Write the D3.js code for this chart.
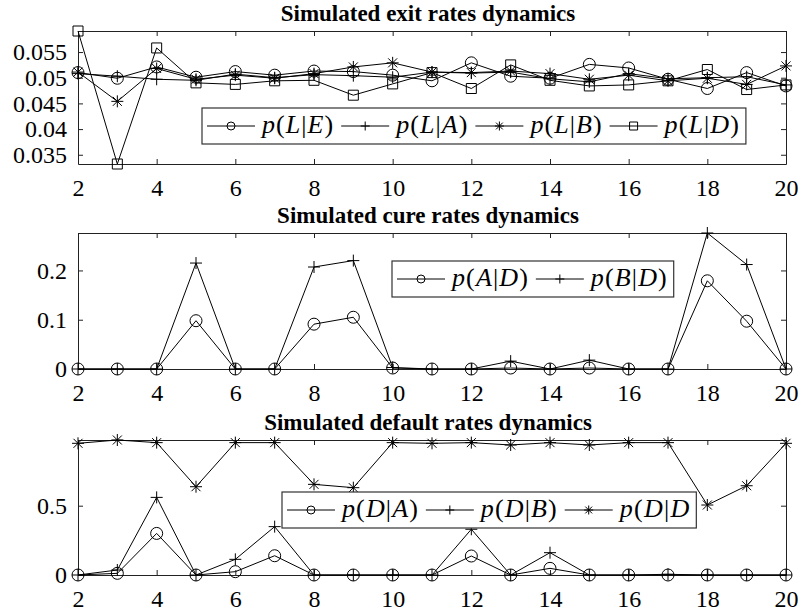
<!DOCTYPE html>
<html>
<head>
<meta charset="utf-8">
<script src="https://cdn.jsdelivr.net/npm/d3@7"></script>
<style>
  body { margin: 0; background: #fff; }
  svg { display: block; }
</style>
</head>
<body>
<svg id="chart" width="801" height="616"></svg>
<script>
// Data
var periods = [2, 3, 4, 5, 6, 7, 8, 9, 10, 11, 12, 13, 14, 15, 16, 17, 18, 19, 20];
var xTicks = [2, 4, 6, 8, 10, 12, 14, 16, 18, 20];

var exitLE = [0.0510, 0.0499, 0.0521, 0.0501, 0.0512, 0.0505, 0.0513, 0.0512, 0.0505, 0.0494, 0.0529, 0.0503, 0.0499, 0.0526, 0.0519, 0.0497, 0.0479, 0.0510, 0.0484];
var exitLA = [0.0508, 0.0503, 0.0497, 0.0495, 0.0507, 0.0500, 0.0506, 0.0504, 0.0501, 0.0511, 0.0509, 0.0511, 0.0498, 0.0492, 0.0508, 0.0498, 0.0500, 0.0502, 0.0486];
var exitLB = [0.0511, 0.0454, 0.0518, 0.0497, 0.0505, 0.0499, 0.0508, 0.0521, 0.0529, 0.0511, 0.0510, 0.0513, 0.0508, 0.0497, 0.0505, 0.0494, 0.0499, 0.0487, 0.0523];
var exitLD = [0.0591, 0.0332, 0.0558, 0.0490, 0.0487, 0.0494, 0.0495, 0.0466, 0.0488, 0.0510, 0.0479, 0.0525, 0.0495, 0.0484, 0.0486, 0.0494, 0.0516, 0.0477, 0.0486];

var cureAD = [0, 0, 0, 0.098, 0, 0, 0.091, 0.105, 0.002, 0, 0, 0.002, 0, 0.002, 0, 0, 0.179, 0.097, 0];
var cureBD = [0, 0, 0, 0.215, 0, 0, 0.207, 0.220, 0.003, 0, 0, 0.016, 0, 0.018, 0, 0, 0.276, 0.212, 0];

var defDA = [0, 0.012, 0.300, 0, 0.024, 0.139, 0, 0, 0, 0, 0.137, 0, 0.048, 0, 0, 0, 0, 0, 0];
var defDB = [0, 0.036, 0.560, 0, 0.113, 0.349, 0, 0, 0, 0, 0.330, 0, 0.161, 0, 0, 0.005, 0, 0, 0];
var defDD = [0.950, 0.974, 0.955, 0.637, 0.955, 0.955, 0.654, 0.630, 0.955, 0.950, 0.955, 0.938, 0.955, 0.938, 0.955, 0.955, 0.505, 0.644, 0.950];

var exitTicks = [0.035, 0.04, 0.045, 0.05, 0.055];
var cureTicks = [0, 0.1, 0.2];
var defTicks = [0, 0.5];

var FONT = "Liberation Serif";
var svg = d3.select("#chart");
var left = 78, right = 786;
var x = d3.scaleLinear().domain([2, 20]).range([left, right]);

//** marker shapes, centred on 0,0 */
function markerPath(type, s) {
    if (type == "plus") return "M" + (-s) + ",0H" + s + "M0," + (-s) + "V" + s;
    if (type == "star") {
        var d = s * 0.75;
        return "M" + (-s) + ",0H" + s + "M0," + (-s) + "V" + s +
            "M" + (-d) + "," + (-d) + "L" + d + "," + d + "M" + (-d) + "," + d + "L" + d + "," + (-d);
    }
    if (type == "square") return "M" + (-s) + "," + (-s) + "H" + s + "V" + s + "H" + (-s) + "Z";
    return "";
}
function drawMarker(g, type, cx, cy, s) {
    if (type == "circle") {
        g.append("circle").attr("cx", cx).attr("cy", cy).attr("r", s)
            .attr("fill", "none").attr("stroke", "#000").attr("stroke-width", 1);
    } else {
        g.append("path").attr("d", markerPath(type, s))
            .attr("transform", "translate(" + cx + "," + cy + ")")
            .attr("fill", "none").attr("stroke", "#000").attr("stroke-width", 1);
    }
}
var markerSize = { circle: 6, plus: 6, star: 6, square: 5 };
var legendMarkerSize = { circle: 4, plus: 4.5, star: 4.5, square: 4 };

//** math-like label: letters in italic */
function mathLabel(textSel, label) {
    label.split("").forEach(function (ch) {
        textSel.append("tspan")
            .attr("font-style", /[A-Za-z]/.test(ch) ? "italic" : "normal")
            .text(ch);
    });
}

function drawPanel(cfg) {
    var g = svg.append("g");
    var y = d3.scaleLinear().domain(cfg.domain).range([cfg.bottom, cfg.top]);

    // title
    g.append("text").attr("x", (left + right) / 2 - 4).attr("y", cfg.top - 10)
        .attr("text-anchor", "middle").attr("font-family", FONT)
        .attr("font-weight", "bold").attr("font-size", 23)
        .text(cfg.title);

    // axes with inward ticks on all sides
    var axB = d3.axisBottom(x).tickValues(xTicks).tickSizeInner(-5).tickSizeOuter(0).tickPadding(15);
    var axT = d3.axisTop(x).tickValues(xTicks).tickSizeInner(-5).tickSizeOuter(0).tickFormat("");
    var axL = d3.axisLeft(y).tickValues(cfg.ticks).tickSizeInner(-5).tickSizeOuter(0).tickPadding(11).tickFormat(d3.format(""));
    var axR = d3.axisRight(y).tickValues(cfg.ticks).tickSizeInner(-5).tickSizeOuter(0).tickFormat("");

    var gb = g.append("g").attr("transform", "translate(0," + cfg.bottom + ")").call(axB);
    var gt = g.append("g").attr("transform", "translate(0," + cfg.top + ")").call(axT);
    var gl = g.append("g").attr("transform", "translate(" + left + ",0)").call(axL);
    var gr = g.append("g").attr("transform", "translate(" + right + ",0)").call(axR);
    [gb, gt, gl, gr].forEach(function (a) {
        a.attr("font-family", FONT).attr("font-size", 24);
        a.selectAll("path").attr("stroke", "#222").attr("stroke-width", 1);
        a.selectAll("line").attr("stroke", "#222");
        a.selectAll("text").attr("fill", "#000");
    });
    gb.selectAll("text").attr("dy", "0.71em");

    // series
    cfg.series.forEach(function (s) {
        var pts = periods.map(function (p, i) { return [x(p), y(s.values[i])]; });
        g.append("path").attr("d", d3.line()(pts))
            .attr("fill", "none").attr("stroke", "#000").attr("stroke-width", 1);
        var mg = g.append("g");
        pts.forEach(function (p) { drawMarker(mg, s.marker, p[0], p[1], markerSize[s.marker]); });
    });

    // legend
    var lg = g.append("g");
    var box = lg.append("rect").attr("fill", "#fff").attr("stroke", "#333").attr("stroke-width", 1.2);
    var cx = cfg.legend.x + 5, cy = cfg.legend.y + 18;
    cfg.series.forEach(function (s) {
        lg.append("line").attr("x1", cx).attr("x2", cx + 48).attr("y1", cy).attr("y2", cy)
            .attr("stroke", "#000").attr("stroke-width", 1);
        drawMarker(lg, s.marker, cx + 24, cy, legendMarkerSize[s.marker]);
        var t = lg.append("text").attr("x", cx + 55).attr("y", cy + 7)
            .attr("font-family", FONT).attr("font-size", 26);
        mathLabel(t, s.label);
        var w = t.node().getComputedTextLength() * 1.08;
        t.attr("textLength", w).attr("lengthAdjust", "spacing");
        cx += 55 + w + 8;
    });
    box.attr("x", cfg.legend.x).attr("y", cfg.legend.y)
        .attr("width", cx - cfg.legend.x - 1).attr("height", 36);
}

drawPanel({
    title: "Simulated exit rates dynamics",
    top: 31, bottom: 164,
    domain: d3.extent(exitLE.concat(exitLA, exitLB, exitLD)),
    ticks: exitTicks,
    legend: { x: 202, y: 108 },
    series: [
        { values: exitLE, marker: "circle", label: "p(L|E)" },
        { values: exitLA, marker: "plus", label: "p(L|A)" },
        { values: exitLB, marker: "star", label: "p(L|B)" },
        { values: exitLD, marker: "square", label: "p(L|D)" }
    ]
});

drawPanel({
    title: "Simulated cure rates dynamics",
    top: 233, bottom: 369,
    domain: [0, d3.max(cureAD.concat(cureBD))],
    ticks: cureTicks,
    legend: { x: 392, y: 261 },
    series: [
        { values: cureAD, marker: "circle", label: "p(A|D)" },
        { values: cureBD, marker: "plus", label: "p(B|D)" }
    ]
});

drawPanel({
    title: "Simulated default rates dynamics",
    top: 440, bottom: 575,
    domain: [0, d3.max(defDA.concat(defDB, defDD))],
    ticks: defTicks,
    legend: { x: 282, y: 492 },
    series: [
        { values: defDA, marker: "circle", label: "p(D|A)" },
        { values: defDB, marker: "plus", label: "p(D|B)" },
        { values: defDD, marker: "star", label: "p(D|D" }
    ]
});
</script>
</body>
</html>
